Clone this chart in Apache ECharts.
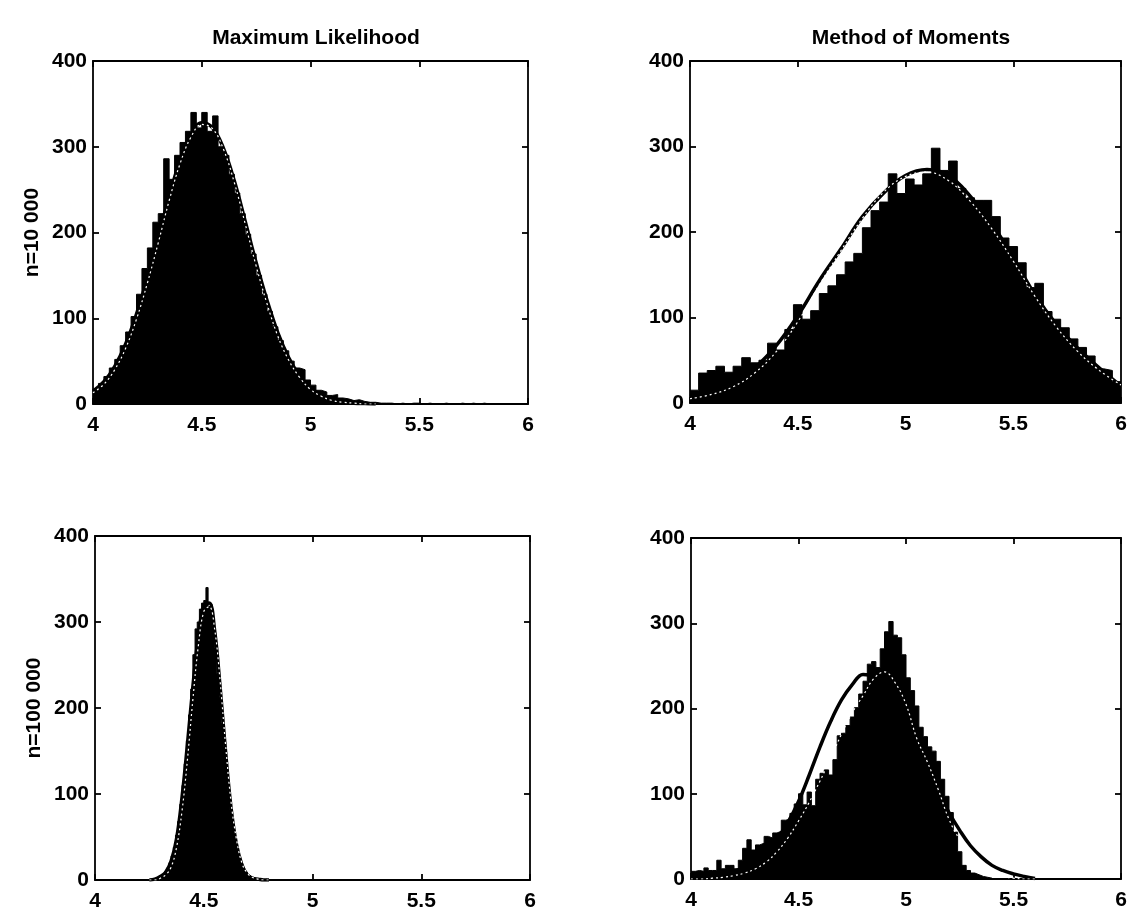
<!DOCTYPE html>
<html>
<head>
<meta charset="utf-8">
<title>Maximum Likelihood vs Method of Moments</title>
<script src="https://cdn.jsdelivr.net/npm/echarts@6/dist/echarts.min.js"></script>
<style>
  html, body { margin: 0; padding: 0; background: #fff; }
  #chart { width: 1136px; height: 913px; }
</style>
</head>
<body>
<div id="chart"></div>
<script>
// ---- data ----
const panelTitles = ['Maximum Likelihood', 'Method of Moments'];
const rowNames = ['n=10 000', 'n=100 000'];
const xTicks = [4, 4.5, 5, 5.5, 6];
const yTicks = [0, 100, 200, 300, 400];

// histograms: first bin edge, bin width, counts
const mlStart10k = 4, mlWidth10k = 0.025;
const mlCounts10k = [16, 24, 32, 42, 52, 68, 84, 102, 128, 158,
  182, 212, 222, 286, 262, 290, 305, 318, 340, 322,
  340, 318, 336, 300, 290, 268, 246, 222, 198, 175,
  150, 128, 108, 90, 74, 62, 50, 42, 40, 28,
  22, 16, 14, 10, 11, 7, 6, 4, 5, 3,
  2, 2, 1, 1, 1, 0, 1, 0, 1, 1,
  0, 1, 0, 0, 1, 0, 0, 1, 0, 1,
  0, 1, 0, 0, 0, 0, 0, 0, 0, 0];

const mmStart10k = 4, mmWidth10k = 0.04;
const mmCounts10k = [15, 35, 38, 43, 36, 43, 53, 47, 50, 70,
  62, 86, 115, 98, 108, 128, 137, 150, 165, 175,
  205, 225, 235, 268, 245, 262, 255, 268, 298, 272,
  283, 251, 240, 237, 237, 218, 193, 183, 164, 135,
  140, 107, 98, 88, 75, 65, 55, 40, 38, 25];

const mlStart100k = 4.25, mlWidth100k = 0.01;
const mlCounts100k = [0, 1, 1, 2, 3, 5, 7, 10, 14, 20,
  28, 38, 52, 68, 88, 110, 135, 162, 192, 222,
  262, 292, 300, 315, 322, 325, 340, 318, 320, 296,
  270, 240, 212, 182, 155, 128, 104, 82, 64, 48,
  36, 26, 19, 13, 9, 6, 4, 3, 2, 1,
  1, 1, 0, 1, 0];

const mmStart100k = 4, mmWidth100k = 0.02;
const mmCounts100k = [9, 10, 9, 13, 10, 10, 22, 12, 16, 16,
  12, 22, 36, 46, 34, 40, 42, 50, 48, 54,
  56, 69, 70, 77, 88, 100, 87, 102, 86, 117,
  124, 128, 122, 140, 168, 171, 180, 190, 201, 217,
  232, 252, 255, 248, 270, 290, 302, 286, 283, 263,
  236, 221, 203, 178, 167, 155, 150, 138, 117, 97,
  78, 55, 32, 16, 10, 7, 5, 3, 2, 1];

// fitted curves (thick black) and reference curves (thin white dotted)
const mlCurveX10k = [4, 4.05, 4.1, 4.15, 4.2, 4.25, 4.3, 4.35, 4.4, 4.45, 4.5, 4.55, 4.6, 4.65,
  4.7, 4.75, 4.8, 4.85, 4.9, 4.95, 5, 5.05, 5.1, 5.15, 5.2, 5.25, 5.3];
const mlFit10k = [15, 26, 44, 70, 105, 147, 194, 242, 284, 314, 328, 322, 298, 260,
  213, 165, 121, 83, 54, 33, 19, 10, 5, 2, 1, 0.5, 0];
const mlRef10k = [13, 23, 40, 65, 99, 141, 188, 237, 280, 311, 326, 321, 297, 258,
  210, 161, 117, 79, 51, 31, 17, 9, 4, 2, 1, 0, 0];

const mmCurveX10k = [4, 4.1, 4.2, 4.3, 4.4, 4.5, 4.6, 4.7, 4.8, 4.9, 5, 5.1, 5.2, 5.3,
  5.4, 5.5, 5.6, 5.7, 5.8, 5.9, 6];
const mmFit10k = [8, 13, 24, 41, 67, 102, 143, 180, 218, 246, 266, 273, 266, 242,
  210, 170, 127, 92, 64, 41, 20];
const mmRef10k = [5, 10, 19, 35, 60, 95, 138, 178, 216, 247, 265, 270, 260, 236,
  204, 166, 125, 89, 60, 38, 21];

const mlCurveX100k = [4.25, 4.275, 4.3, 4.325, 4.35, 4.375, 4.4, 4.425, 4.45, 4.475, 4.5, 4.525,
  4.55, 4.575, 4.6, 4.625, 4.65, 4.675, 4.7, 4.725, 4.75, 4.775, 4.8];
const mlFit100k = [0, 1, 4, 9, 22, 48, 96, 158, 225, 283, 318, 322,
  290, 225, 150, 85, 42, 18, 6, 2, 1, 0, 0];
const mlRef100k = [0, 0, 2, 6, 15, 38, 80, 140, 210, 272, 312, 318,
  292, 232, 158, 92, 48, 20, 8, 3, 1, 0, 0];

const mmCurveX100k = [4, 4.05, 4.1, 4.15, 4.2, 4.25, 4.3, 4.35, 4.4, 4.45, 4.5, 4.55, 4.6,
  4.65, 4.7, 4.75, 4.8, 4.85, 4.9, 4.95, 5, 5.05, 5.1, 5.15, 5.2, 5.25, 5.3, 5.35, 5.4,
  5.45, 5.5, 5.55, 5.6];
const mmFit100k = [1, 1.5, 3, 5, 9, 14, 22, 33, 47, 66, 91, 122, 155,
  185, 210, 228, 240, 238, 228, 212, 190, 163, 133, 103, 78, 57, 39, 26, 16,
  10, 6, 3, 0.5];
const mmRef100k = [0, 0, 1, 2, 4, 7, 12, 20, 32, 48, 68, 90, 115,
  142, 170, 195, 215, 235, 243, 230, 205, 165, 137, 105, 70, 46, 27, 14, 7,
  3, 1, 0, 0];

// ---- build ----
const FONT = '"Liberation Sans", Arial, sans-serif';

function histPoints(start, width, counts) {
  const pts = counts.map((c, i) => [start + i * width, c]);
  pts.push([start + counts.length * width, counts[counts.length - 1]]);
  return pts;
}
function zip(xs, ys) {
  return xs.map((x, i) => [x, ys[i]]);
}

const panels = [
  { hist: histPoints(mlStart10k, mlWidth10k, mlCounts10k), fit: zip(mlCurveX10k, mlFit10k), ref: zip(mlCurveX10k, mlRef10k) },
  { hist: histPoints(mmStart10k, mmWidth10k, mmCounts10k), fit: zip(mmCurveX10k, mmFit10k), ref: zip(mmCurveX10k, mmRef10k) },
  { hist: histPoints(mlStart100k, mlWidth100k, mlCounts100k), fit: zip(mlCurveX100k, mlFit100k), ref: zip(mlCurveX100k, mlRef100k) },
  { hist: histPoints(mmStart100k, mmWidth100k, mmCounts100k), fit: zip(mmCurveX100k, mmFit100k), ref: zip(mmCurveX100k, mmRef100k) }
];

const grids = [
  { left: 93, top: 61, width: 435, height: 343 },
  { left: 690, top: 61, width: 431, height: 342 },
  { left: 95, top: 536, width: 435, height: 344 },
  { left: 691, top: 538, width: 430, height: 341 }
];

const labelStyle = { color: '#000', fontSize: 21, fontWeight: 'bold', fontFamily: FONT };
const lineStyle = { color: '#000', width: 1.8 };

const xAxes = [], yAxes = [], series = [];
grids.forEach((g, i) => {
  // bottom / left axes carry labels
  xAxes.push({
    type: 'value', gridIndex: i, min: xTicks[0], max: xTicks[xTicks.length - 1], interval: 0.5,
    axisLine: { show: true, lineStyle: lineStyle },
    axisTick: { inside: true, length: 6, lineStyle: lineStyle },
    axisLabel: Object.assign({ margin: 11 }, labelStyle),
    splitLine: { show: false }
  });
  yAxes.push({
    type: 'value', gridIndex: i, min: yTicks[0], max: yTicks[yTicks.length - 1], interval: 100,
    name: i % 2 === 0 ? rowNames[i / 2] : '',
    nameLocation: 'middle', nameGap: 50,
    nameTextStyle: Object.assign({}, labelStyle, { fontSize: 21 }),
    axisLine: { show: true, lineStyle: lineStyle },
    axisTick: { inside: true, length: 6, lineStyle: lineStyle },
    axisLabel: Object.assign({ margin: 6 }, labelStyle),
    splitLine: { show: false }
  });
});
grids.forEach((g, i) => {
  // top / right axes only give the box and inner ticks
  xAxes.push({
    type: 'value', gridIndex: i, position: 'top', min: xTicks[0], max: xTicks[xTicks.length - 1], interval: 0.5,
    axisLine: { show: true, onZero: false, lineStyle: lineStyle },
    axisTick: { inside: true, length: 6, lineStyle: lineStyle },
    axisLabel: { show: false }, splitLine: { show: false }
  });
  yAxes.push({
    type: 'value', gridIndex: i, position: 'right', min: yTicks[0], max: yTicks[yTicks.length - 1], interval: 100,
    axisLine: { show: true, onZero: false, lineStyle: lineStyle },
    axisTick: { inside: true, length: 6, lineStyle: lineStyle },
    axisLabel: { show: false }, splitLine: { show: false }
  });
});

panels.forEach((p, i) => {
  series.push({
    type: 'line', xAxisIndex: i, yAxisIndex: i, step: 'end', data: p.hist,
    symbol: 'none', lineStyle: { color: '#000', width: 1 },
    areaStyle: { color: '#000', opacity: 1 }, z: 2
  });
  series.push({
    type: 'line', xAxisIndex: i, yAxisIndex: i, data: p.fit, smooth: 0.4,
    symbol: 'none', lineStyle: { color: '#000', width: 3.5 }, z: 3
  });
  series.push({
    type: 'line', xAxisIndex: i, yAxisIndex: i, data: p.ref, smooth: 0.4,
    symbol: 'none', lineStyle: { color: '#fff', width: 1.2, type: [2, 3] }, z: 4
  });
});

const titleStyle = { color: '#000', fontSize: 21, fontWeight: 'bold', fontFamily: FONT };
const titles = [
  { text: panelTitles[0], left: 311, top: 23, textAlign: 'center', textStyle: titleStyle },
  { text: panelTitles[1], left: 906, top: 23, textAlign: 'center', textStyle: titleStyle }
];

const myChart = echarts.init(document.getElementById('chart'), null, { renderer: 'canvas' });
myChart.setOption({
  backgroundColor: '#fff',
  animation: false,
  title: titles,
  grid: grids,
  xAxis: xAxes,
  yAxis: yAxes,
  series: series
});
</script>
</body>
</html>
